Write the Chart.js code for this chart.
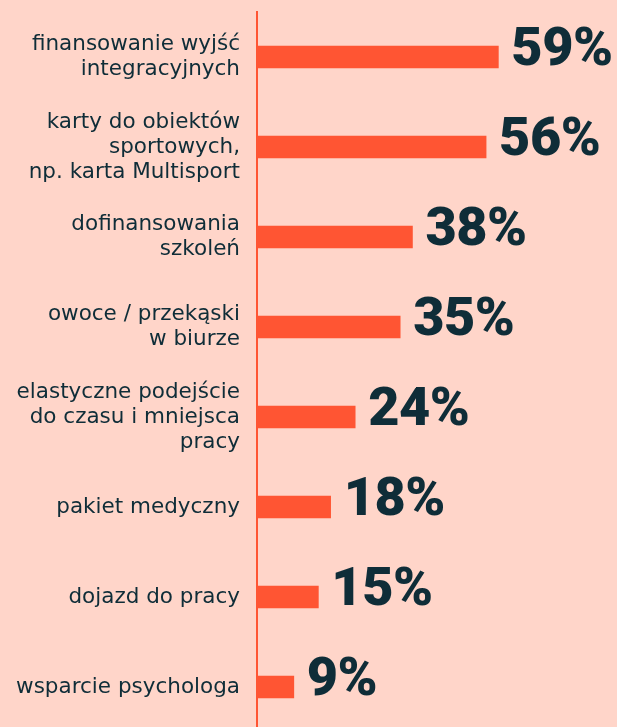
<!DOCTYPE html>
<html>
<head>
<meta charset="utf-8">
<script src="https://cdn.jsdelivr.net/npm/chart.js@4"></script>
<style>
html,body{margin:0;padding:0;background:#FFD5C9;overflow:hidden;}
#wrap{width:617px;height:732px;}
</style>
</head>
<body>
<div id="wrap"><canvas id="c" width="617" height="732"></canvas></div>
<script>
const categories = [
  ["finansowanie wyjść", "integracyjnych"],
  ["karty do obiektów", "sportowych,", "np. karta Multisport"],
  ["dofinansowania", "szkoleń"],
  ["owoce / przekąski", "w biurze"],
  ["elastyczne podejście", "do czasu i mniejsca", "pracy"],
  ["pakiet medyczny"],
  ["dojazd do pracy"],
  ["wsparcie psychologa"]
];
const values = [59, 56, 38, 35, 24, 18, 15, 9];
const valueLabels = ["59%", "56%", "38%", "35%", "24%", "18%", "15%", "9%"];

const BAR = '#FF5533';
const TEXT = '#0F2D38';

const valuePlugin = {
  id: 'valueLabels',
  afterDatasetsDraw(chart) {
    const ctx = chart.ctx;
    const meta = chart.getDatasetMeta(0);
    ctx.save();
    ctx.fillStyle = TEXT;
    ctx.font = '900 54px Roboto';
    try { ctx.letterSpacing = '-0.5px'; } catch (e) {}
    ctx.textAlign = 'left';
    ctx.textBaseline = 'alphabetic';
    meta.data.forEach((bar, i) => {
      ctx.fillText(valueLabels[i], bar.x + 13, bar.y + 8);
    });
    ctx.restore();
  }
};

new Chart(document.getElementById('c'), {
  type: 'bar',
  data: {
    labels: categories,
    datasets: [{
      data: values,
      backgroundColor: BAR,
      barThickness: 22,
      borderWidth: 0
    }]
  },
  options: {
    indexAxis: 'y',
    responsive: false,
    animation: false,
    layout: { padding: { top: 12, bottom: 0, left: 0, right: 0 } },
    plugins: { legend: { display: false }, tooltip: { enabled: false } },
    scales: {
      x: { display: false, min: 0, max: 88 },
      y: {
        grid: { display: false, drawTicks: false },
        border: { display: true, color: BAR, width: 2 },
        ticks: {
          color: TEXT,
          padding: 17,
          font: { family: 'DejaVu Sans', size: 21.5, lineHeight: 1.16 }
        },
        afterFit(s) { s.width = 257; s.paddingTop = 0; s.paddingBottom = 0; }
      }
    }
  },
  plugins: [valuePlugin]
});
</script>
</body>
</html>
